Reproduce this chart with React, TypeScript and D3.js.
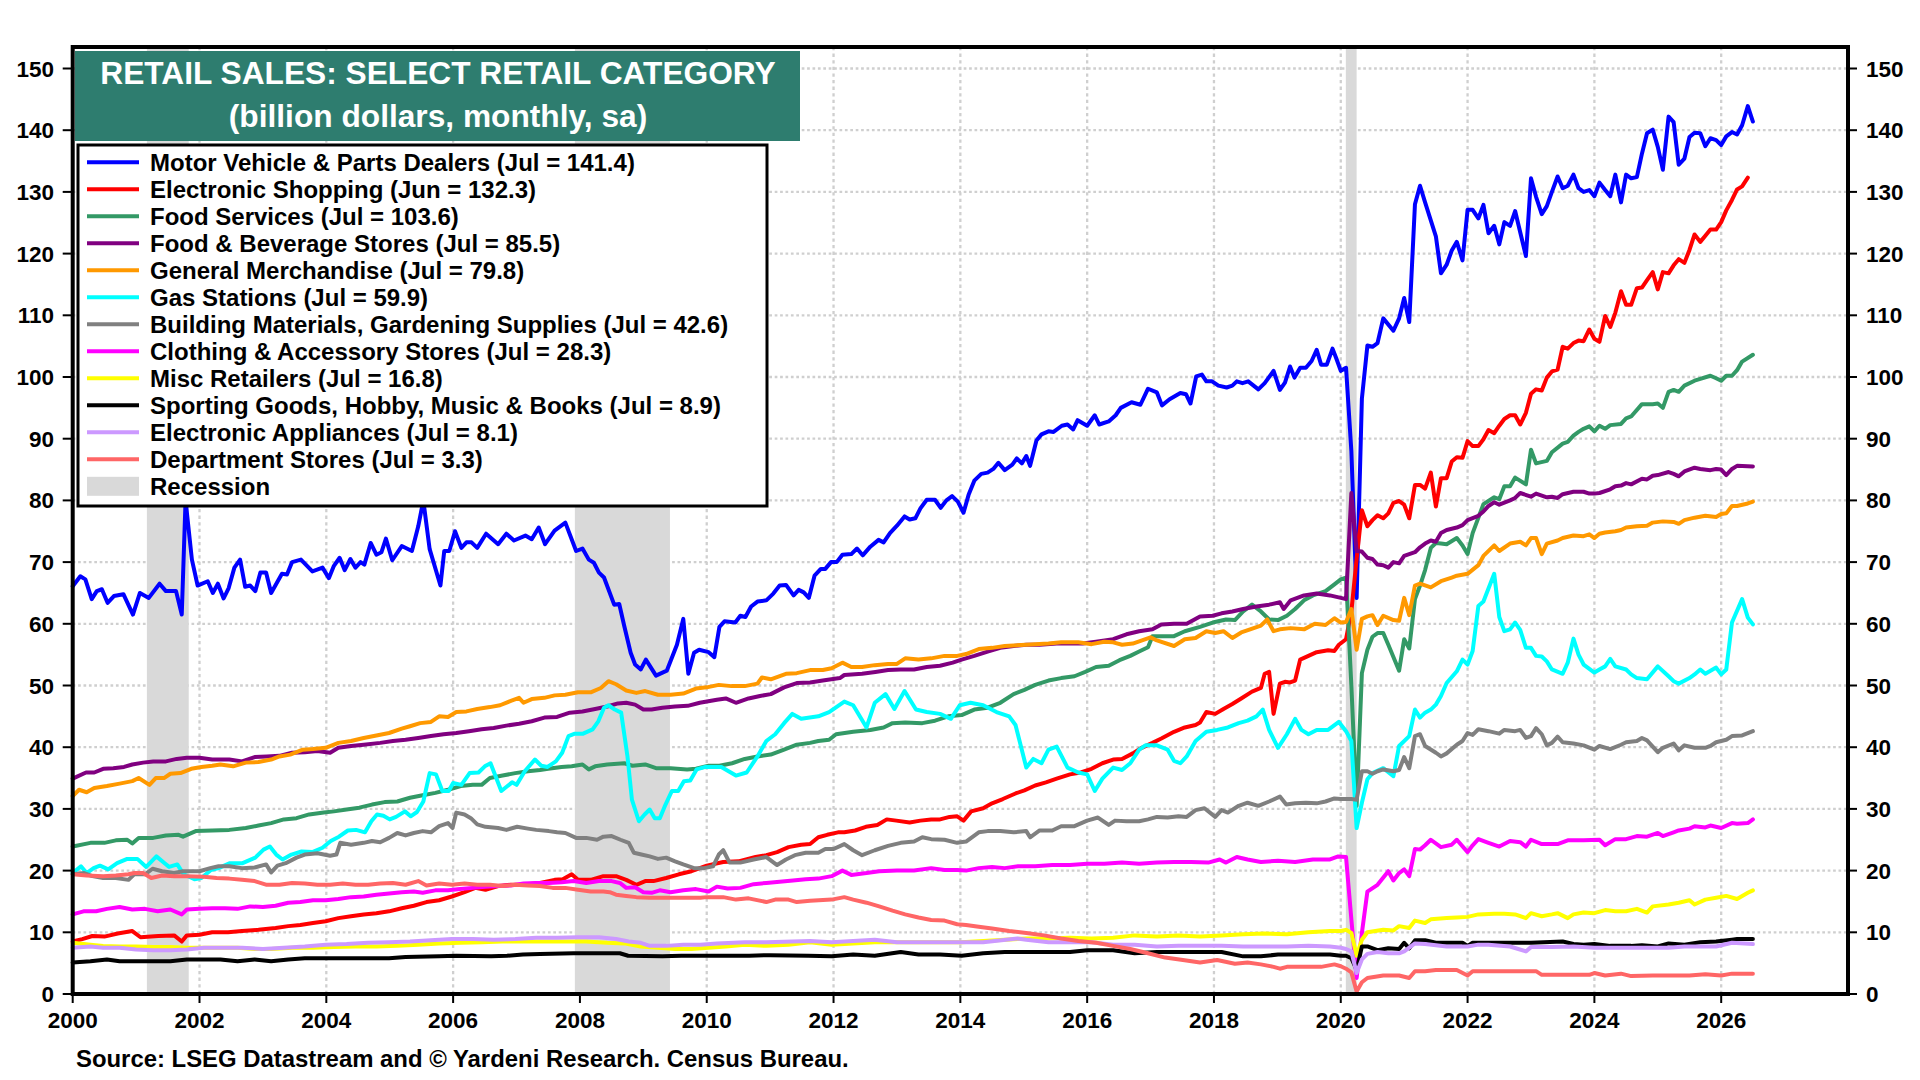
import React from 'react';
import * as d3 from 'd3';

type Pt = [number, number];

// monthly readings (decimal year, billion $)
const motorVehicle: Pt[] = [[2000.0,66.1],[2000.12,67.7],[2000.2,67.2],[2000.3,64],[2000.38,65.3],[2000.46,65.6],[2000.55,63.4],[2000.65,64.5],[2000.8,64.8],[2000.95,61.5],[2001.06,65],[2001.2,64.2],[2001.37,66.5],[2001.47,65.3],[2001.63,65.3],[2001.72,61.5],[2001.78,80],[2001.88,70.4],[2001.97,66.2],[2002.13,66.9],[2002.21,65],[2002.29,66.5],[2002.38,64.1],[2002.46,65.8],[2002.55,69.1],[2002.64,70.4],[2002.72,66],[2002.8,66.2],[2002.88,65.3],[2002.96,68.3],[2003.05,68.3],[2003.13,65],[2003.3,68.1],[2003.38,68],[2003.46,70],[2003.6,70.4],[2003.78,68.5],[2003.94,69.1],[2004.04,67.4],[2004.12,69.4],[2004.21,70.7],[2004.29,68.7],[2004.38,70.5],[2004.46,69.1],[2004.54,70],[2004.6,69.6],[2004.7,73.1],[2004.79,71.2],[2004.87,71.6],[2004.94,73.8],[2005.04,70.3],[2005.19,72.6],[2005.35,71.8],[2005.45,75.8],[2005.53,80],[2005.63,72.1],[2005.8,66.2],[2005.86,71.8],[2005.94,71.8],[2006.03,75],[2006.13,72.3],[2006.21,73.2],[2006.29,73.2],[2006.38,72.3],[2006.52,74.6],[2006.71,72.9],[2006.84,74.6],[2006.96,73.5],[2007.14,74.3],[2007.24,73.7],[2007.35,75.6],[2007.45,72.9],[2007.6,75.1],[2007.77,76.4],[2007.94,71.8],[2008.04,72.2],[2008.14,70.4],[2008.22,69.9],[2008.3,68.3],[2008.38,67.5],[2008.54,63.1],[2008.62,63.2],[2008.7,59.6],[2008.8,55.3],[2008.87,53.4],[2008.96,52.6],[2009.04,54.2],[2009.2,51.6],[2009.37,52.4],[2009.53,56.6],[2009.63,60.8],[2009.71,51.9],[2009.8,55.3],[2009.88,55.8],[2010.03,55.4],[2010.12,54.6],[2010.2,59.5],[2010.28,60.4],[2010.45,60.2],[2010.53,61.3],[2010.61,61.1],[2010.7,62.8],[2010.8,63.6],[2010.94,63.8],[2011.05,64.9],[2011.15,66.2],[2011.25,66.3],[2011.37,64.6],[2011.45,65.5],[2011.53,65.1],[2011.61,64.2],[2011.7,67.8],[2011.8,68.9],[2011.87,68.9],[2011.96,70],[2012.05,70],[2012.14,71.2],[2012.28,71.3],[2012.37,72.2],[2012.46,71.1],[2012.58,72.5],[2012.71,73.6],[2012.79,73.2],[2012.89,74.7],[2013.0,75.9],[2013.12,77.4],[2013.2,76.9],[2013.29,77.1],[2013.37,78.7],[2013.47,80.1],[2013.6,80.1],[2013.69,78.8],[2013.78,80],[2013.87,80.7],[2013.96,79.8],[2014.05,78],[2014.13,80.9],[2014.22,83.2],[2014.33,84.3],[2014.43,84.5],[2014.52,85.1],[2014.6,86.1],[2014.7,84.9],[2014.82,85.8],[2014.89,86.8],[2014.97,86],[2015.04,87.2],[2015.1,85.6],[2015.2,89.7],[2015.28,90.7],[2015.39,91.2],[2015.47,91.1],[2015.6,92.1],[2015.69,92.3],[2015.78,91.5],[2015.85,93],[2016.0,92.1],[2016.12,93.8],[2016.19,92.3],[2016.34,92.8],[2016.45,93.8],[2016.53,95],[2016.7,95.9],[2016.84,95.5],[2016.96,98.1],[2017.1,97.5],[2017.18,95.4],[2017.3,96.4],[2017.47,97.4],[2017.56,97.2],[2017.63,95.7],[2017.72,100.1],[2017.81,100.4],[2017.88,99.3],[2017.97,99.3],[2018.07,98.6],[2018.2,98.3],[2018.29,98.6],[2018.36,99.3],[2018.45,99],[2018.54,99.3],[2018.7,98],[2018.8,99],[2018.94,101],[2019.04,97.9],[2019.12,99.1],[2019.2,101.7],[2019.27,99.9],[2019.36,101.5],[2019.45,101.5],[2019.54,102.6],[2019.62,104.4],[2019.69,102],[2019.78,102],[2019.87,104.6],[2019.93,103],[2020.0,101],[2020.083,101.5],[2020.167,88],[2020.25,64.2],[2020.333,96.5],[2020.42,105.1],[2020.5,104.9],[2020.58,105.5],[2020.67,109.5],[2020.83,107.5],[2020.92,109.5],[2021.0,112.8],[2021.08,108.9],[2021.17,128],[2021.25,131],[2021.33,128.3],[2021.5,122.8],[2021.58,116.8],[2021.67,118.2],[2021.75,120.5],[2021.83,121.9],[2021.92,118.9],[2022.0,127.1],[2022.08,127.1],[2022.17,125.7],[2022.25,127.9],[2022.33,123.3],[2022.42,124.5],[2022.5,121.5],[2022.58,125.1],[2022.67,124.5],[2022.75,126.9],[2022.92,119.6],[2023.0,132.2],[2023.08,129.2],[2023.17,126.4],[2023.25,127.7],[2023.33,130],[2023.42,132.5],[2023.5,130.6],[2023.58,131],[2023.67,132.8],[2023.75,130.6],[2023.83,130],[2023.92,130.3],[2024.0,129.3],[2024.08,131.5],[2024.17,130.3],[2024.25,129.3],[2024.33,132.8],[2024.42,128.3],[2024.5,132.8],[2024.58,132.2],[2024.67,132.4],[2024.75,136.2],[2024.83,139.5],[2024.92,140.1],[2025.0,137.3],[2025.08,133.6],[2025.17,142.2],[2025.25,141.3],[2025.33,134.4],[2025.42,135.4],[2025.5,138.9],[2025.58,139.6],[2025.67,139.5],[2025.75,137.4],[2025.83,138.7],[2025.92,138.4],[2026.0,137.6],[2026.08,139],[2026.17,139.7],[2026.25,139.3],[2026.33,140.8],[2026.42,143.9],[2026.5,141.4]];

const eShopping: Pt[] = [[2000.0,8.5],[2000.15,8.9],[2000.31,9.4],[2000.5,9.3],[2000.71,9.8],[2000.94,10.2],[2001.07,9.2],[2001.35,9.4],[2001.6,9.5],[2001.72,8.5],[2001.8,9.5],[2002.0,9.6],[2002.2,10],[2002.45,10],[2002.67,10.2],[2002.93,10.4],[2003.2,10.7],[2003.4,11],[2003.59,11.2],[2003.79,11.5],[2003.99,11.8],[2004.19,12.3],[2004.39,12.6],[2004.59,12.9],[2004.79,13.1],[2004.99,13.4],[2005.19,13.9],[2005.38,14.3],[2005.58,14.9],[2005.78,15.2],[2005.98,15.8],[2006.18,16.5],[2006.35,17.2],[2006.51,16.9],[2006.71,17.5],[2006.91,17.7],[2007.11,17.7],[2007.37,18],[2007.6,18.5],[2007.73,18.6],[2007.87,19.4],[2007.97,18.5],[2008.17,18.5],[2008.37,19.1],[2008.57,19.1],[2008.73,18.5],[2008.89,17.7],[2009.03,18.3],[2009.16,18.3],[2009.36,18.8],[2009.56,19.4],[2009.76,19.9],[2010.0,20.8],[2010.26,21.4],[2010.5,21.5],[2010.77,22.2],[2010.94,22.5],[2011.11,23],[2011.29,23.8],[2011.49,24.2],[2011.63,24.3],[2011.76,25.4],[2011.9,25.8],[2012.07,26.2],[2012.17,26.2],[2012.34,26.5],[2012.51,27.1],[2012.69,27.4],[2012.84,28.3],[2012.99,28.1],[2013.2,27.8],[2013.37,28.1],[2013.54,28.3],[2013.68,28.3],[2013.83,28.7],[2013.95,28.8],[2014.05,28.1],[2014.17,29.6],[2014.36,30.1],[2014.5,30.9],[2014.67,31.6],[2014.87,32.5],[2015.01,33],[2015.18,33.8],[2015.35,34.3],[2015.52,34.9],[2015.73,35.6],[2015.9,35.9],[2016.07,36.5],[2016.24,37.4],[2016.41,38],[2016.55,38.1],[2016.72,39],[2016.86,39.9],[2017.03,40.7],[2017.17,41.4],[2017.37,42.5],[2017.54,43.2],[2017.71,43.6],[2017.78,44],[2017.88,45.7],[2018.02,45.4],[2018.15,46.2],[2018.29,47],[2018.43,47.9],[2018.6,49],[2018.74,49.6],[2018.8,51.9],[2018.87,52.2],[2018.94,45.4],[2019.04,50.3],[2019.12,50.6],[2019.2,50.5],[2019.28,50.8],[2019.36,54.2],[2019.49,54.8],[2019.62,55.4],[2019.8,55.7],[2019.9,55.6],[2019.97,56.6],[2020.083,57.5],[2020.167,62],[2020.25,70.5],[2020.333,78.4],[2020.42,75.8],[2020.5,76.8],[2020.58,77.6],[2020.67,77.1],[2020.75,77.9],[2020.83,79.6],[2020.92,79.9],[2021.0,79.3],[2021.08,77.1],[2021.17,82.5],[2021.25,82.5],[2021.33,81.9],[2021.42,84.5],[2021.5,79],[2021.58,83.6],[2021.67,83.6],[2021.75,86.3],[2021.83,87],[2021.92,86.9],[2022.0,89.6],[2022.08,88.8],[2022.17,88.8],[2022.25,89.9],[2022.33,91.4],[2022.42,90.9],[2022.5,92.1],[2022.58,93.2],[2022.67,93.8],[2022.75,93.8],[2022.83,92.3],[2022.92,94.2],[2023.0,97.3],[2023.08,98],[2023.17,97.8],[2023.25,99.9],[2023.33,100.9],[2023.42,101.2],[2023.5,104.9],[2023.58,104.6],[2023.67,105.5],[2023.75,105.9],[2023.83,105.8],[2023.92,107.7],[2024.0,106.2],[2024.08,105.7],[2024.17,109.9],[2024.25,108.1],[2024.33,110.4],[2024.42,113.9],[2024.5,111.7],[2024.58,111.7],[2024.67,114.4],[2024.75,114.5],[2024.83,115.7],[2024.92,117],[2025.0,114.2],[2025.08,117],[2025.17,116.8],[2025.25,118.1],[2025.33,119.1],[2025.42,118.5],[2025.5,120.6],[2025.58,123.1],[2025.67,121.9],[2025.75,122.9],[2025.83,123.9],[2025.92,123.9],[2026.0,125.1],[2026.08,127],[2026.17,128.7],[2026.25,130.4],[2026.33,130.9],[2026.42,132.3]];

const foodServices: Pt[] = [[2000.0,23.9],[2000.28,24.5],[2000.5,24.5],[2000.68,24.9],[2000.86,25],[2000.94,24.4],[2001.04,25.3],[2001.27,25.3],[2001.47,25.7],[2001.67,25.8],[2001.74,25.5],[2001.94,26.4],[2002.2,26.5],[2002.47,26.6],[2002.73,26.9],[2002.93,27.3],[2003.13,27.7],[2003.33,28.3],[2003.53,28.5],[2003.73,29.1],[2003.96,29.4],[2004.12,29.6],[2004.32,29.9],[2004.52,30.2],[2004.72,30.7],[2004.92,31.1],[2005.12,31.2],[2005.32,31.8],[2005.52,32.2],[2005.72,32.6],[2005.92,33.1],[2006.12,33.7],[2006.31,33.9],[2006.45,33.9],[2006.58,35],[2006.78,35.4],[2006.98,35.8],[2007.18,36.1],[2007.37,36.3],[2007.5,36.5],[2007.71,36.8],[2007.87,36.9],[2008.04,37.2],[2008.14,36.4],[2008.24,36.9],[2008.43,37.2],[2008.7,37.4],[2008.83,37],[2009.03,37.2],[2009.2,36.6],[2009.43,36.6],[2009.69,36.4],[2009.83,36.5],[2010.03,37],[2010.2,37],[2010.4,37.4],[2010.6,38.1],[2010.8,38.5],[2011.01,38.8],[2011.22,39.6],[2011.42,40.4],[2011.63,40.7],[2011.76,41],[2011.93,41.2],[2012.04,42.1],[2012.31,42.5],[2012.58,42.8],[2012.79,43.2],[2012.93,43.9],[2013.13,44],[2013.4,43.9],[2013.6,44.3],[2013.81,45],[2014.02,45.2],[2014.22,46.1],[2014.43,46.4],[2014.63,47.2],[2014.84,48.6],[2015.01,49.3],[2015.18,50.1],[2015.39,50.8],[2015.59,51.2],[2015.8,51.5],[2015.97,52.2],[2016.14,53],[2016.34,53.2],[2016.51,54.1],[2016.68,54.8],[2016.82,55.5],[2016.96,56.2],[2017.03,58],[2017.17,58],[2017.37,58],[2017.54,58.8],[2017.78,59.5],[2017.98,60.2],[2018.19,60.7],[2018.33,60.6],[2018.46,62],[2018.6,63.1],[2018.74,62],[2018.87,60.7],[2019.01,60.6],[2019.15,61.3],[2019.28,62.4],[2019.42,63.8],[2019.56,64.6],[2019.76,65.3],[2019.9,66.4],[2020.0,67.2],[2020.083,67.5],[2020.167,50],[2020.25,30.5],[2020.333,52],[2020.42,55.8],[2020.5,57.9],[2020.58,58.5],[2020.67,58.5],[2020.75,56.6],[2020.92,52.4],[2021.0,57.5],[2021.08,56],[2021.17,64],[2021.25,66.2],[2021.33,68.7],[2021.42,72.3],[2021.5,73.1],[2021.58,73],[2021.67,72.9],[2021.83,73.9],[2021.92,72.7],[2022.0,71.3],[2022.08,74.7],[2022.25,79.4],[2022.42,80.5],[2022.5,80.2],[2022.58,82.3],[2022.67,82.3],[2022.75,83.7],[2022.92,82.6],[2023.0,88.2],[2023.08,86],[2023.25,86.4],[2023.33,87.8],[2023.5,89.2],[2023.58,89.5],[2023.67,90.5],[2023.75,91.1],[2023.83,91.6],[2023.92,92],[2024.0,91.2],[2024.08,92.1],[2024.17,91.6],[2024.25,92.2],[2024.42,92.4],[2024.5,93.3],[2024.58,93.6],[2024.75,95.6],[2024.92,95.6],[2025.0,95.7],[2025.08,95],[2025.17,97.6],[2025.25,97.9],[2025.33,97.6],[2025.42,98.6],[2025.58,99.4],[2025.67,99.7],[2025.83,100.2],[2025.92,99.8],[2026.0,99.4],[2026.08,100.2],[2026.17,100.2],[2026.25,101.1],[2026.33,102.5],[2026.5,103.6]];

const foodBeverage: Pt[] = [[2000.0,34.9],[2000.21,35.9],[2000.34,35.9],[2000.48,36.5],[2000.64,36.6],[2000.81,36.8],[2000.94,37.2],[2001.11,37.5],[2001.27,37.7],[2001.47,37.7],[2001.64,38.1],[2001.8,38.3],[2002.0,38.3],[2002.2,38],[2002.47,38],[2002.67,37.7],[2002.87,38.4],[2003.06,38.5],[2003.26,38.6],[2003.46,39.1],[2003.66,39.2],[2003.86,39.4],[2004.06,39.1],[2004.19,39.9],[2004.39,40.2],[2004.59,40.4],[2004.85,40.7],[2005.05,41],[2005.25,41.2],[2005.45,41.5],[2005.65,41.8],[2005.85,42.1],[2006.05,42.3],[2006.25,42.6],[2006.45,42.9],[2006.64,43.1],[2006.84,43.5],[2007.04,43.8],[2007.24,44.2],[2007.44,44.8],[2007.64,44.9],[2007.84,45.6],[2008.04,45.8],[2008.24,46.2],[2008.43,46.6],[2008.6,47.1],[2008.73,47.2],[2008.87,46.9],[2009.0,46.1],[2009.13,46.1],[2009.3,46.4],[2009.5,46.6],[2009.7,46.7],[2009.89,47.2],[2010.16,47.7],[2010.3,47.9],[2010.46,47.2],[2010.66,47.9],[2010.84,48.3],[2011.01,48.6],[2011.22,49.7],[2011.42,50.4],[2011.63,50.5],[2011.83,50.8],[2012.1,51.2],[2012.17,51.7],[2012.45,51.9],[2012.66,52.2],[2012.86,52.5],[2013.06,52.6],[2013.27,52.6],[2013.47,53],[2013.68,53.2],[2013.88,53.7],[2014.02,54.2],[2014.22,54.8],[2014.43,55.5],[2014.63,56.1],[2014.84,56.4],[2015.04,56.6],[2015.25,56.6],[2015.52,56.8],[2015.73,56.8],[2015.93,56.8],[2016.14,57.1],[2016.41,57.5],[2016.62,58.3],[2016.82,58.8],[2017.03,59.1],[2017.17,59.9],[2017.37,60],[2017.57,60],[2017.78,61.2],[2017.98,61.3],[2018.12,61.7],[2018.29,62],[2018.46,62.4],[2018.67,62.8],[2018.87,63.1],[2019.04,63.5],[2019.1,62.4],[2019.21,63.8],[2019.42,64.6],[2019.62,64.9],[2019.83,64.6],[2020.0,64.2],[2020.083,64],[2020.167,81.2],[2020.25,71.8],[2020.333,71.7],[2020.42,70.7],[2020.5,70.5],[2020.58,69.6],[2020.67,69.5],[2020.75,69.1],[2020.83,70],[2020.92,69.8],[2021.0,71],[2021.17,71.6],[2021.25,72.4],[2021.33,73],[2021.42,73.5],[2021.5,73.3],[2021.58,74.7],[2021.67,75.2],[2021.83,75.6],[2021.92,76],[2022.0,76.8],[2022.17,77.5],[2022.25,78.2],[2022.33,79.1],[2022.42,79.7],[2022.5,79.3],[2022.67,80],[2022.75,80.4],[2022.83,81.2],[2023.0,80.6],[2023.08,81.1],[2023.25,80.5],[2023.33,80.6],[2023.42,80.4],[2023.5,81],[2023.67,81.4],[2023.83,81.4],[2023.92,81.1],[2024.0,81.1],[2024.08,81.2],[2024.25,81.8],[2024.33,82.3],[2024.42,82.4],[2024.5,82.8],[2024.58,82.6],[2024.75,83.5],[2024.83,83.4],[2024.92,84],[2025.0,84.1],[2025.17,84.6],[2025.25,84.3],[2025.33,83.9],[2025.42,84.7],[2025.58,85.3],[2025.67,85.1],[2025.83,84.9],[2025.92,85.1],[2026.0,85],[2026.08,84.1],[2026.17,85.1],[2026.25,85.6],[2026.5,85.5]];

const generalMerch: Pt[] = [[2000.0,32.1],[2000.1,33.1],[2000.22,32.7],[2000.34,33.4],[2000.54,33.7],[2000.74,34.1],[2000.94,34.5],[2001.04,35],[2001.21,33.9],[2001.31,35],[2001.44,35],[2001.54,35.7],[2001.7,35.8],[2001.87,36.5],[2002.03,36.8],[2002.2,37],[2002.33,37.2],[2002.53,36.9],[2002.73,37.5],[2002.93,37.6],[2003.13,38],[2003.26,38.5],[2003.43,38.8],[2003.63,39.6],[2003.79,39.7],[2003.99,39.9],[2004.19,40.7],[2004.39,41],[2004.59,41.5],[2004.79,41.9],[2004.99,42.3],[2005.19,43],[2005.32,43.4],[2005.48,43.9],[2005.65,44.1],[2005.78,45],[2005.92,44.9],[2006.05,45.7],[2006.21,45.8],[2006.38,46.2],[2006.58,46.5],[2006.74,46.8],[2006.91,47.5],[2007.04,48],[2007.11,47.2],[2007.24,47.8],[2007.44,48],[2007.6,48.4],[2007.77,48.5],[2007.97,48.9],[2008.17,48.9],[2008.33,49.6],[2008.45,50.7],[2008.57,50.2],[2008.73,49.2],[2008.89,48.8],[2009.03,49.1],[2009.23,48.5],[2009.43,48.5],[2009.63,48.7],[2009.83,49.5],[2010.0,49.7],[2010.19,50.1],[2010.39,49.9],[2010.6,49.9],[2010.8,50.3],[2010.87,51.3],[2011.01,51],[2011.25,51.9],[2011.42,52],[2011.63,52.5],[2011.83,52.5],[2011.97,52.8],[2012.14,53.7],[2012.28,53],[2012.45,53],[2012.65,53.3],[2012.86,53.5],[2013.0,53.5],[2013.13,54.4],[2013.34,54.2],[2013.54,54.4],[2013.75,54.8],[2013.95,54.8],[2014.09,55.1],[2014.29,55.9],[2014.5,56.1],[2014.7,56.4],[2015.04,56.6],[2015.39,56.8],[2015.59,57],[2015.86,57],[2016.07,56.7],[2016.27,57.1],[2016.41,57],[2016.55,56.6],[2016.72,56.8],[2017.0,57.8],[2017.1,57.3],[2017.37,56.4],[2017.54,57.5],[2017.71,57.7],[2017.88,58.8],[2018.02,58.5],[2018.15,58.8],[2018.29,57.7],[2018.43,58.6],[2018.57,59.1],[2018.74,59.7],[2018.84,60.7],[2018.94,58.8],[2019.04,59.1],[2019.21,59.3],[2019.42,59.1],[2019.59,60],[2019.76,59.8],[2019.9,60.9],[2020.0,60.2],[2020.083,60.3],[2020.167,62.4],[2020.25,55.8],[2020.333,60.8],[2020.42,61.2],[2020.5,61.4],[2020.58,59.8],[2020.67,61.3],[2020.83,60.6],[2020.92,60.5],[2021.0,64.2],[2021.08,61.4],[2021.17,66.2],[2021.25,66.5],[2021.42,65.9],[2021.58,66.9],[2021.75,67.5],[2021.83,67.8],[2022.0,68.1],[2022.17,69.5],[2022.25,71],[2022.42,72.7],[2022.5,71.8],[2022.67,73],[2022.83,73.3],[2022.92,72.7],[2023.0,73.9],[2023.08,73.9],[2023.17,71.3],[2023.25,73],[2023.42,73.5],[2023.5,73.9],[2023.67,74.3],[2023.83,74.2],[2023.92,74.5],[2024.0,73.9],[2024.08,74.6],[2024.17,74.8],[2024.33,75],[2024.42,75.2],[2024.5,75.6],[2024.67,75.8],[2024.83,75.9],[2024.92,76.4],[2025.08,76.6],[2025.25,76.5],[2025.33,76.2],[2025.42,76.8],[2025.58,77.2],[2025.75,77.5],[2025.92,77.3],[2026.0,77.8],[2026.08,77.9],[2026.17,79.1],[2026.25,79.1],[2026.42,79.5],[2026.5,79.8]];

const gasStations: Pt[] = [[2000.0,19.6],[2000.13,20.7],[2000.22,19.6],[2000.33,20.4],[2000.43,20.8],[2000.56,20.2],[2000.7,21.2],[2000.86,21.9],[2001.02,21.9],[2001.16,20.6],[2001.32,22.3],[2001.45,21.2],[2001.52,20.6],[2001.65,21],[2001.75,19.4],[2001.92,18.6],[2002.03,18.8],[2002.18,20.1],[2002.3,20.4],[2002.48,21.2],[2002.68,21.2],[2002.88,22.1],[2003.01,23.4],[2003.11,23.9],[2003.21,22.6],[2003.31,21.8],[2003.45,22.6],[2003.61,23.1],[2003.78,23],[2003.94,23.7],[2004.07,24.8],[2004.2,25.5],[2004.34,26.5],[2004.47,26.6],[2004.61,26.2],[2004.71,28],[2004.8,29.1],[2004.9,28.9],[2005.0,28.3],[2005.1,28.7],[2005.24,29.6],[2005.33,28.8],[2005.43,29.5],[2005.53,31.2],[2005.63,35.8],[2005.73,35.6],[2005.83,32.9],[2005.93,32.9],[2006.0,34.2],[2006.13,33.9],[2006.26,35.8],[2006.4,35.9],[2006.5,36.9],[2006.59,37.4],[2006.76,32.9],[2006.93,34.3],[2007.0,33.9],[2007.13,36.1],[2007.29,38],[2007.39,37],[2007.49,36.8],[2007.62,37.7],[2007.72,39.1],[2007.82,41.8],[2007.92,42.2],[2008.05,42.2],[2008.2,42.9],[2008.29,44.2],[2008.38,46.4],[2008.45,46.8],[2008.55,46.1],[2008.65,45.6],[2008.75,38.5],[2008.82,31.5],[2008.93,28],[2009.02,29.1],[2009.1,29.9],[2009.18,28.5],[2009.26,28.5],[2009.35,30.7],[2009.45,32.9],[2009.55,32.9],[2009.64,34.5],[2009.74,34.6],[2009.84,36.4],[2009.98,36.8],[2010.23,36.8],[2010.46,35.4],[2010.63,35.9],[2010.8,38.5],[2010.94,41],[2011.08,42.1],[2011.22,43.9],[2011.35,45.4],[2011.49,44.6],[2011.76,45],[2011.93,45.7],[2012.17,47.4],[2012.31,46.8],[2012.52,43.2],[2012.65,47.2],[2012.82,48.6],[2012.96,46.2],[2013.12,49.1],[2013.3,46.1],[2013.47,45.7],[2013.68,45.4],[2013.85,44.6],[2013.99,46.8],[2014.16,47.2],[2014.36,46.8],[2014.57,45.7],[2014.77,45],[2014.87,43.6],[2015.04,36.7],[2015.15,38.1],[2015.28,37.4],[2015.39,39.6],[2015.52,40.1],[2015.69,36.7],[2015.86,35.9],[2016.0,35.6],[2016.12,32.9],[2016.24,34.9],[2016.41,36.7],[2016.55,36.3],[2016.68,37.4],[2016.82,39.6],[2016.92,40.3],[2017.1,40.3],[2017.27,39.6],[2017.37,37.8],[2017.47,37.4],[2017.57,38.5],[2017.71,41],[2017.88,42.5],[2018.05,42.8],[2018.22,43.2],[2018.39,43.9],[2018.53,44.3],[2018.67,45],[2018.77,46.1],[2018.87,42.8],[2019.01,39.9],[2019.15,42.1],[2019.28,44.6],[2019.38,42.8],[2019.49,42.1],[2019.62,42.8],[2019.8,42.8],[2019.97,44.1],[2020.083,42.6],[2020.167,41],[2020.25,26.9],[2020.333,31],[2020.42,34.8],[2020.5,35.8],[2020.67,36.6],[2020.83,35.3],[2020.92,40.2],[2021.08,41.8],[2021.17,46.1],[2021.25,44.8],[2021.33,45.6],[2021.42,46.1],[2021.5,46.9],[2021.58,48.3],[2021.67,50.4],[2021.83,52.3],[2021.92,54.2],[2022.0,53.4],[2022.08,55.6],[2022.17,62.9],[2022.25,63.6],[2022.42,68.1],[2022.5,61.1],[2022.58,58.8],[2022.67,59.1],[2022.75,60.2],[2022.83,59],[2022.92,56.1],[2023.0,56.1],[2023.08,54.8],[2023.17,54.7],[2023.25,53.9],[2023.33,52.6],[2023.5,51.9],[2023.58,53.7],[2023.67,57.6],[2023.75,55],[2023.83,53.4],[2024.0,52.1],[2024.08,52.6],[2024.17,53.1],[2024.25,54.3],[2024.33,53.1],[2024.5,52.6],[2024.58,51.8],[2024.67,51.2],[2024.83,51],[2025.0,53.1],[2025.17,51.5],[2025.25,50.7],[2025.33,50.3],[2025.5,51.2],[2025.58,51.8],[2025.67,52.6],[2025.75,51.9],[2025.92,52.9],[2026.0,51.8],[2026.08,52.6],[2026.17,60.2],[2026.33,64],[2026.42,61],[2026.5,59.9]];

const buildingMaterials: Pt[] = [[2000.0,19.4],[2000.18,19.6],[2000.31,19.1],[2000.48,18.8],[2000.68,18.8],[2000.88,18.5],[2000.97,19.4],[2001.14,19.4],[2001.26,20.3],[2001.41,19.9],[2001.6,19.6],[2001.74,19.9],[2002.0,19.9],[2002.17,20.4],[2002.3,20.7],[2002.47,20.7],[2002.67,20.4],[2002.87,20.5],[2003.05,21],[2003.13,19.7],[2003.23,20.8],[2003.36,21.2],[2003.53,22.1],[2003.66,22.6],[2003.86,22.8],[2004.06,22.4],[2004.16,22.6],[2004.22,24.5],[2004.39,24.2],[2004.59,24.5],[2004.72,24.8],[2004.85,24.6],[2004.99,25.3],[2005.12,26.1],[2005.25,25.7],[2005.38,26.1],[2005.52,26.4],[2005.65,26.2],[2005.78,27.2],[2005.92,27.7],[2005.99,26.9],[2006.05,29.4],[2006.18,29.1],[2006.28,28.5],[2006.38,27.5],[2006.51,27.1],[2006.71,26.9],[2006.84,26.6],[2007.01,27.1],[2007.18,26.8],[2007.31,26.6],[2007.51,26.4],[2007.64,26.2],[2007.77,26.1],[2007.94,25.3],[2008.1,25.3],[2008.27,25],[2008.37,25.5],[2008.5,25.6],[2008.64,25],[2008.77,24.5],[2008.85,22.9],[2008.97,22.6],[2009.1,22.3],[2009.23,21.9],[2009.36,22.1],[2009.5,21.5],[2009.63,21],[2009.8,20.4],[2009.96,20.4],[2010.1,20.7],[2010.19,22.6],[2010.26,23.3],[2010.36,21.3],[2010.53,21.3],[2010.74,21.8],[2010.94,22.2],[2011.11,20.9],[2011.25,21.8],[2011.39,22.5],[2011.56,22.9],[2011.76,22.9],[2011.87,23.5],[2012.0,23.5],[2012.17,24.3],[2012.31,23.3],[2012.45,22.5],[2012.65,23.3],[2012.86,24],[2013.06,24.5],[2013.27,24.7],[2013.4,25.4],[2013.54,25.1],[2013.75,25],[2013.95,24.5],[2014.09,24.7],[2014.29,26.2],[2014.43,26.4],[2014.63,26.4],[2014.84,26.2],[2015.04,26.4],[2015.1,25.4],[2015.25,26.5],[2015.45,26.5],[2015.59,27.2],[2015.8,27.2],[2016.0,28.1],[2016.17,28.6],[2016.34,27.4],[2016.44,28.1],[2016.62,28],[2016.82,28],[2016.96,28.3],[2017.1,28.7],[2017.27,28.6],[2017.44,28.8],[2017.57,28.7],[2017.71,29.8],[2017.85,30.1],[2018.02,28.7],[2018.12,29.8],[2018.22,29.4],[2018.39,30.5],[2018.53,31],[2018.7,30.5],[2018.87,31.2],[2019.04,32],[2019.14,30.7],[2019.28,30.9],[2019.45,31],[2019.62,30.9],[2019.76,31.2],[2019.9,31.7],[2020.0,31.6],[2020.083,31.6],[2020.167,31.6],[2020.25,31.5],[2020.333,36.1],[2020.42,36.1],[2020.5,35.7],[2020.58,36.1],[2020.67,36.4],[2020.83,36.1],[2020.92,36.3],[2021.0,38.4],[2021.08,36.6],[2021.17,41.8],[2021.25,42.1],[2021.33,40.2],[2021.5,39.1],[2021.58,38.5],[2021.67,39],[2021.83,40.4],[2021.92,41],[2022.0,42.3],[2022.08,42],[2022.17,42.9],[2022.33,42.6],[2022.5,42.2],[2022.58,42.8],[2022.75,42.6],[2022.83,42.8],[2022.92,41.5],[2023.0,41.8],[2023.08,43.1],[2023.17,42.1],[2023.25,40.3],[2023.33,40.7],[2023.42,41.7],[2023.5,40.8],[2023.67,40.6],[2023.83,40.3],[2024.0,39.6],[2024.08,40.2],[2024.25,39.7],[2024.42,40.4],[2024.5,40.8],[2024.67,41],[2024.75,41.5],[2024.83,41.1],[2025.0,39.2],[2025.08,39.9],[2025.25,40.6],[2025.33,39.5],[2025.42,40.3],[2025.58,39.9],[2025.75,39.9],[2025.83,40.2],[2025.92,40.8],[2026.08,41.2],[2026.17,41.8],[2026.33,41.9],[2026.5,42.6]];

const clothing: Pt[] = [[2000.0,12.9],[2000.17,13.4],[2000.37,13.4],[2000.54,13.8],[2000.74,14.1],[2000.94,13.7],[2001.14,13.8],[2001.34,13.4],[2001.54,13.7],[2001.72,12.9],[2001.8,13.7],[2002.0,13.8],[2002.2,13.9],[2002.4,13.9],[2002.6,13.8],[2002.8,14.2],[2003.0,14.1],[2003.2,14.3],[2003.4,14.8],[2003.59,14.9],[2003.79,15.2],[2003.99,15.2],[2004.19,15.4],[2004.39,15.7],[2004.59,15.8],[2004.79,16.1],[2004.99,16.3],[2005.19,16.5],[2005.38,16.6],[2005.52,16.4],[2005.72,16.8],[2005.92,16.8],[2006.11,17],[2006.31,17.2],[2006.51,17.4],[2006.71,17.5],[2006.91,17.6],[2007.11,17.9],[2007.31,18],[2007.51,18],[2007.71,18.1],[2007.9,18.3],[2008.1,18],[2008.3,18.3],[2008.5,18.3],[2008.63,18],[2008.73,17.2],[2008.87,17.3],[2009.0,16.5],[2009.13,16.4],[2009.26,16.8],[2009.43,16.5],[2009.63,16.8],[2009.83,17],[2010.03,16.6],[2010.16,17.4],[2010.33,17.1],[2010.53,17.2],[2010.74,17.8],[2010.94,18],[2011.15,18.2],[2011.36,18.4],[2011.56,18.6],[2011.76,18.7],[2011.97,19.1],[2012.14,20],[2012.28,19.3],[2012.52,19.6],[2012.72,19.9],[2013.0,20],[2013.27,20],[2013.54,20.4],[2013.75,20.1],[2013.95,20.1],[2014.09,20],[2014.29,20.4],[2014.5,20.6],[2014.7,20.4],[2014.91,20.7],[2015.18,20.7],[2015.45,20.9],[2015.73,20.9],[2016.0,21.1],[2016.27,21.1],[2016.55,21.3],[2016.82,21.1],[2017.1,21.3],[2017.37,21.4],[2017.64,21.4],[2017.91,21.3],[2018.09,21.8],[2018.19,21.3],[2018.36,22.2],[2018.53,21.8],[2018.74,21.4],[2019.01,21.6],[2019.28,21.4],[2019.56,21.8],[2019.83,21.8],[2019.96,22.3],[2020.083,22.2],[2020.167,12.1],[2020.25,2.6],[2020.333,9.9],[2020.42,16.6],[2020.58,17.7],[2020.75,19.9],[2020.83,18.4],[2020.92,19.6],[2021.0,20.2],[2021.08,19.1],[2021.17,23.5],[2021.25,23.4],[2021.33,24.1],[2021.42,25],[2021.58,23.8],[2021.75,24.2],[2021.83,25],[2022.0,23],[2022.08,24.1],[2022.17,25.1],[2022.33,24.5],[2022.5,23.9],[2022.67,24.8],[2022.83,24.6],[2022.92,23.9],[2023.0,25],[2023.17,24.3],[2023.42,24.3],[2023.58,24.9],[2023.83,24.9],[2024.08,25],[2024.17,24.1],[2024.33,25.1],[2024.5,25.1],[2024.67,25.6],[2024.83,25.5],[2025.0,26.1],[2025.08,25.6],[2025.25,26.2],[2025.33,26.5],[2025.5,26.8],[2025.58,27.2],[2025.75,27],[2025.83,27.3],[2026.0,26.9],[2026.17,27.7],[2026.25,27.6],[2026.42,27.7],[2026.5,28.3]];

const miscRetailers: Pt[] = [[2000.0,8.3],[2000.28,8],[2000.48,7.8],[2000.74,7.7],[2001.0,7.7],[2001.27,7.6],[2001.54,7.6],[2001.8,7.5],[2002.07,7.5],[2002.33,7.5],[2002.6,7.5],[2002.87,7.3],[2003.13,7.3],[2003.46,7.5],[2003.79,7.5],[2004.12,7.6],[2004.46,7.7],[2004.79,7.7],[2005.12,7.8],[2005.45,8],[2005.78,8.2],[2006.12,8.3],[2006.45,8.4],[2006.78,8.5],[2007.12,8.5],[2007.45,8.5],[2007.77,8.5],[2008.1,8.5],[2008.43,8.3],[2008.7,8.2],[2008.96,7.7],[2009.23,7.5],[2009.5,7.3],[2009.76,7.3],[2010.03,7.5],[2010.3,7.7],[2010.6,8],[2010.94,7.8],[2011.29,8],[2011.63,8.4],[2011.97,8],[2012.31,8.2],[2012.65,8.4],[2013.0,8.4],[2013.34,8.4],[2013.68,8.4],[2014.02,8.4],[2014.36,8.6],[2014.7,8.8],[2015.04,9],[2015.39,9],[2015.73,9.1],[2016.07,9],[2016.41,9.1],[2016.75,9.5],[2017.1,9.3],[2017.44,9.5],[2017.78,9.3],[2018.12,9.5],[2018.46,9.7],[2018.8,9.8],[2019.15,9.7],[2019.49,10],[2019.83,10.2],[2020.0,10.2],[2020.083,10.4],[2020.167,9.9],[2020.25,6.2],[2020.333,8.8],[2020.42,10],[2020.67,10.4],[2020.83,10.3],[2020.92,11],[2021.08,10.7],[2021.17,11.9],[2021.33,11.5],[2021.42,12.1],[2021.67,12.3],[2021.83,12.4],[2022.0,12.5],[2022.17,12.9],[2022.42,13],[2022.58,13],[2022.75,12.9],[2022.92,12.3],[2023.0,13.1],[2023.17,12.6],[2023.33,12.9],[2023.42,13.1],[2023.58,12.3],[2023.67,12.9],[2023.83,13.2],[2024.0,13.1],[2024.17,13.6],[2024.33,13.4],[2024.5,13.4],[2024.67,13.8],[2024.83,13.2],[2024.92,14.2],[2025.17,14.5],[2025.33,14.8],[2025.5,15.2],[2025.58,14.5],[2025.75,15.3],[2025.92,15.6],[2026.08,15.9],[2026.25,15.4],[2026.42,16.4],[2026.5,16.8]];

const sportingGoods: Pt[] = [[2000.0,5.1],[2000.28,5.3],[2000.54,5.6],[2000.74,5.3],[2001.0,5.3],[2001.54,5.3],[2001.8,5.6],[2002.33,5.6],[2002.6,5.3],[2002.87,5.6],[2003.13,5.3],[2003.4,5.6],[2003.66,5.8],[2004.5,5.8],[2004.99,5.8],[2005.25,6],[2005.78,6.1],[2006.05,6.2],[2006.6,6.1],[2006.85,6.2],[2007.1,6.4],[2007.37,6.5],[2007.9,6.6],[2008.63,6.6],[2008.76,6.2],[2009.3,6.1],[2009.6,6.2],[2010.0,6.2],[2010.33,6.2],[2010.67,6.2],[2011.0,6.3],[2011.6,6.2],[2011.97,6.1],[2012.31,6.4],[2012.65,6.2],[2013.06,6.8],[2013.34,6.4],[2013.68,6.4],[2014.02,6.2],[2014.36,6.6],[2014.7,6.8],[2015.04,6.8],[2015.73,6.8],[2016.0,7.1],[2016.41,7.1],[2016.75,6.6],[2017.1,6.8],[2017.78,6.8],[2018.12,6.8],[2018.46,6.1],[2018.74,6.1],[2019.01,6.4],[2019.83,6.4],[2020.0,6.2],[2020.083,6.2],[2020.167,5.8],[2020.25,3.9],[2020.333,7.7],[2020.42,7.7],[2020.58,7.1],[2020.75,7.4],[2020.92,7.3],[2021.0,8.3],[2021.08,7.4],[2021.17,8.7],[2021.33,8.7],[2021.5,8.3],[2021.92,8.3],[2022.0,7.8],[2022.08,8.3],[2022.5,8.3],[2023.0,8.3],[2023.5,8.5],[2023.67,8.1],[2023.83,8],[2024.0,8.1],[2024.25,7.8],[2024.58,7.8],[2024.75,7.9],[2025.0,7.7],[2025.17,8.2],[2025.42,8],[2025.67,8.4],[2025.92,8.5],[2026.17,8.8],[2026.25,8.9],[2026.5,8.9]];

const electronicAppliances: Pt[] = [[2000.0,7.5],[2000.28,7.7],[2000.48,7.5],[2000.74,7.5],[2001.0,7.2],[2001.27,7.1],[2001.54,7.1],[2001.8,7.2],[2002.07,7.5],[2002.33,7.5],[2002.67,7.5],[2003.0,7.3],[2003.33,7.5],[2003.66,7.7],[2003.99,8],[2004.32,8.1],[2004.66,8.3],[2004.99,8.4],[2005.32,8.5],[2005.65,8.7],[2005.98,8.9],[2006.31,8.9],[2006.64,8.8],[2006.98,8.9],[2007.31,9.1],[2007.64,9.1],[2007.97,9.2],[2008.3,9.2],[2008.57,8.9],[2008.77,8.5],[2008.96,8.3],[2009.1,7.8],[2009.36,7.8],[2009.63,8],[2009.9,8],[2010.16,8.2],[2010.6,8.4],[2010.94,8.4],[2011.63,8.6],[2011.97,8.4],[2012.31,8.6],[2012.65,8.8],[2013.0,8.4],[2013.68,8.4],[2014.36,8.4],[2014.9,9],[2015.04,8.8],[2015.39,8.4],[2015.73,8.4],[2016.07,8.4],[2016.41,8],[2016.75,8],[2017.1,7.7],[2017.44,7.8],[2017.78,7.8],[2018.12,7.8],[2018.46,7.7],[2018.8,7.7],[2019.15,7.7],[2019.49,7.8],[2019.83,7.7],[2020.0,7.5],[2020.083,7.3],[2020.167,6.9],[2020.25,3.4],[2020.333,5.6],[2020.42,6.5],[2020.58,6.8],[2020.75,6.6],[2020.92,6.6],[2021.0,6.9],[2021.17,8.2],[2021.33,8.1],[2021.67,7.7],[2022.0,7.7],[2022.17,8],[2022.33,8],[2022.67,7.7],[2022.92,6.9],[2023.0,7.6],[2023.33,7.6],[2023.67,7.7],[2024.0,7.5],[2024.5,7.5],[2024.83,7.5],[2025.17,7.5],[2025.42,7.7],[2025.92,7.7],[2026.17,8.3],[2026.5,8.1]];

const departmentStores: Pt[] = [[2000.0,19.4],[2000.22,19.2],[2000.48,19.1],[2000.68,19.2],[2000.88,19.4],[2000.97,19.6],[2001.11,19.6],[2001.24,18.8],[2001.41,19.2],[2001.6,19.1],[2001.8,19.1],[2002.07,19],[2002.27,18.8],[2002.47,18.7],[2002.67,18.5],[2002.87,18.3],[2003.06,17.7],[2003.26,17.7],[2003.46,18],[2003.66,17.9],[2003.86,17.7],[2004.06,17.7],[2004.26,17.9],[2004.46,17.7],[2004.66,17.7],[2004.85,17.9],[2005.05,18],[2005.25,17.7],[2005.45,18.3],[2005.58,17.6],[2005.78,17.9],[2005.98,17.7],[2006.18,17.9],[2006.38,17.7],[2006.58,17.7],[2006.78,17.5],[2006.98,17.7],[2007.18,17.6],[2007.37,17.5],[2007.57,17.2],[2007.77,17.2],[2007.97,16.9],[2008.17,16.6],[2008.37,16.6],[2008.47,16.5],[2008.57,16.1],[2008.73,15.9],[2008.89,15.7],[2009.1,15.6],[2009.36,15.6],[2009.63,15.6],[2009.9,15.6],[2010.0,15.7],[2010.26,15.7],[2010.46,15.3],[2010.66,15.5],[2010.94,14.9],[2011.08,15.3],[2011.29,15.3],[2011.42,14.9],[2011.63,15.1],[2011.97,15.3],[2012.17,15.7],[2012.31,15.3],[2012.52,14.8],[2012.72,14.2],[2012.93,13.5],[2013.13,12.9],[2013.34,12.4],[2013.54,12],[2013.75,11.9],[2013.95,11.3],[2014.09,11.2],[2014.29,10.9],[2014.5,10.6],[2014.77,10.2],[2015.04,9.9],[2015.32,9.5],[2015.59,9],[2015.86,8.6],[2016.14,8.3],[2016.41,7.8],[2016.68,7.3],[2016.96,6.6],[2017.23,5.9],[2017.51,5.5],[2017.78,5.1],[2018.05,5.5],[2018.33,4.9],[2018.53,5.1],[2018.74,4.8],[2018.94,4.4],[2019.04,4.1],[2019.15,4.4],[2019.42,4.4],[2019.69,4.4],[2019.9,4.8],[2020.0,4.5],[2020.083,4.1],[2020.167,3.5],[2020.25,0.4],[2020.333,1.9],[2020.42,2.6],[2020.67,3],[2020.92,3],[2021.08,2.6],[2021.17,3.7],[2021.33,3.7],[2021.5,3.9],[2021.83,3.9],[2022.0,3],[2022.08,3.7],[2022.5,3.7],[2023.08,3.7],[2023.17,3.1],[2023.5,3.1],[2023.92,3.1],[2024.0,3.4],[2024.17,3],[2024.42,3.3],[2024.58,2.9],[2024.92,3],[2025.25,3],[2025.5,3],[2025.75,3.2],[2026.0,3],[2026.17,3.3],[2026.5,3.3]];

const seriesLabels = [
  'Motor Vehicle & Parts Dealers (Jul = 141.4)',
  'Electronic Shopping (Jun = 132.3)',
  'Food Services (Jul = 103.6)',
  'Food & Beverage Stores (Jul = 85.5)',
  'General Merchandise (Jul = 79.8)',
  'Gas Stations (Jul = 59.9)',
  'Building Materials, Gardening Supplies (Jul = 42.6)',
  'Clothing & Accessory Stores (Jul = 28.3)',
  'Misc Retailers (Jul = 16.8)',
  'Sporting Goods, Hobby, Music & Books (Jul = 8.9)',
  'Electronic Appliances (Jul = 8.1)',
  'Department Stores (Jul = 3.3)',
];
const seriesColors = ['#0000FF', '#FF0000', '#339966', '#800080', '#FF9900', '#00FFFF', '#808080', '#FF00FF', '#FFFF00', '#000000', '#CC99FF', '#FF6666'];
const seriesData = [motorVehicle, eShopping, foodServices, foodBeverage, generalMerch, gasStations, buildingMaterials, clothing, miscRetailers, sportingGoods, electronicAppliances, departmentStores];

const recessions: Pt[] = [[2001.17, 2001.83], [2007.92, 2009.42], [2020.08, 2020.25]];
const yTicks = [0, 10, 20, 30, 40, 50, 60, 70, 80, 90, 100, 110, 120, 130, 140, 150];
const xTicks = [2000, 2002, 2004, 2006, 2008, 2010, 2012, 2014, 2016, 2018, 2020, 2022, 2024, 2026];

const W = 1920;
const H = 1080;
const left = 72.7;
const right = 1848;
const top = 47;
const bottom = 994;
const FONT = '"Liberation Sans", Arial, Helvetica, sans-serif';

export default function App() {
  const x = d3.scaleLinear().domain([2000, 2028]).range([left, right]);
  const y = d3.scaleLinear().domain([0, 150]).range([bottom, 68.5]);
  const line = d3.line<Pt>().x(d => x(d[0])).y(d => y(d[1]));

  const rowH = 27;
  const firstRow = 162.3;

  return (
    <svg width={W} height={H} style={{ position: 'absolute', left: 0, top: 0, background: '#fff' }} fontFamily={FONT} fontWeight="bold">
      <rect x={0} y={0} width={W} height={H} fill="#fff" />

      {/* grid */}
      {yTicks.filter(t => t > 0).map(t => (
        <line key={'gy' + t} x1={left} x2={right} y1={y(t)} y2={y(t)} stroke="#CFCFCF" strokeWidth={2.3} strokeDasharray="2.7,2.7" />
      ))}
      {xTicks.filter(t => t > 2000).map(t => (
        <line key={'gx' + t} x1={x(t)} x2={x(t)} y1={top} y2={bottom} stroke="#CFCFCF" strokeWidth={2.3} strokeDasharray="3.3,3.3" />
      ))}

      {/* recessions */}
      {recessions.map(([a, b]) => (
        <rect key={'r' + a} x={x(a)} y={top} width={x(b) - x(a)} height={bottom - top} fill="#D9D9D9" />
      ))}

      {/* series */}
      {seriesData.map((s, i) => (
        <path key={'s' + i} d={line(s) || ''} fill="none" stroke={seriesColors[i]} strokeWidth={4} strokeLinejoin="round" strokeLinecap="round" />
      ))}

      {/* frame */}
      <rect x={left} y={top} width={right - left} height={bottom - top} fill="none" stroke="#000" strokeWidth={4} />

      {/* ticks + labels */}
      {yTicks.map(t => (
        <g key={'yt' + t}>
          <line x1={left - 10} x2={left} y1={y(t)} y2={y(t)} stroke="#000" strokeWidth={2} />
          <line x1={right} x2={right + 9} y1={y(t)} y2={y(t)} stroke="#000" strokeWidth={2} />
          <text x={54} y={y(t) + 8} textAnchor="end" fontSize={22.5}>{t}</text>
          <text x={1866} y={y(t) + 8} textAnchor="start" fontSize={22.5}>{t}</text>
        </g>
      ))}
      {xTicks.map(t => (
        <g key={'xt' + t}>
          <line x1={x(t)} x2={x(t)} y1={bottom} y2={bottom + 9} stroke="#000" strokeWidth={2} />
          <text x={x(t)} y={1028} textAnchor="middle" fontSize={22.5}>{t}</text>
        </g>
      ))}

      {/* title */}
      <rect x={75} y={51} width={725} height={90} fill="#2E7D6F" />
      <text x={438} y={84} textAnchor="middle" fontSize={31.7} fill="#fff">RETAIL SALES: SELECT RETAIL CATEGORY</text>
      <text x={438} y={127} textAnchor="middle" fontSize={31.7} fill="#fff">(billion dollars, monthly, sa)</text>

      {/* legend */}
      <rect x={78} y={145} width={689} height={361} fill="#fff" stroke="#000" strokeWidth={3} />
      {seriesLabels.map((label, i) => (
        <g key={'l' + i}>
          <line x1={87} x2={139} y1={firstRow + i * rowH} y2={firstRow + i * rowH} stroke={seriesColors[i]} strokeWidth={4} />
          <text x={150} y={firstRow + i * rowH + 8.3} fontSize={24}>{label}</text>
        </g>
      ))}
      <rect x={87} y={firstRow + 12 * rowH - 9.5} width={52} height={19} fill="#D9D9D9" />
      <text x={150} y={firstRow + 12 * rowH + 8.3} fontSize={24}>Recession</text>

      {/* source */}
      <text x={76} y={1067} fontSize={23.9}>Source: LSEG Datastream and © Yardeni Research. Census Bureau.</text>
    </svg>
  );
}
